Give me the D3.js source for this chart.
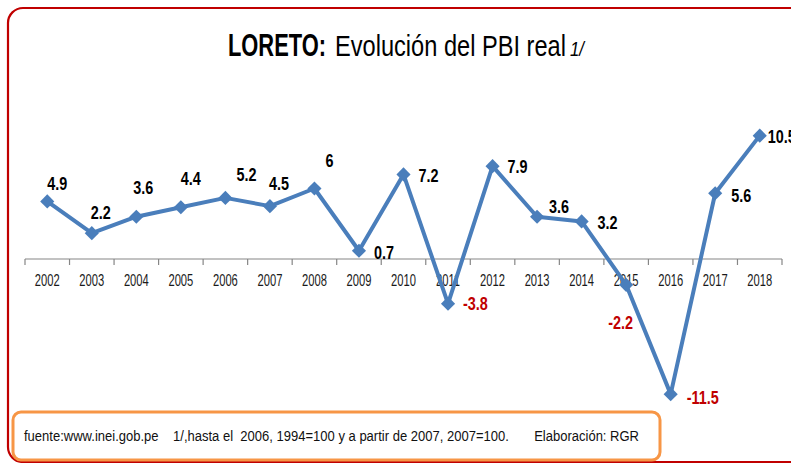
<!DOCTYPE html>
<html>
<head>
<meta charset="utf-8">
<script src="https://cdn.jsdelivr.net/npm/d3@7"></script>
<style>
  html, body { margin: 0; padding: 0; background: #fff; }
  svg { display: block; }
  text { font-family: "Liberation Sans", Arial, sans-serif; }
</style>
</head>
<body>
<div id="chart"></div>
<script>
// Data (PBI real, var. %)
const years = ['2002', '2003', '2004', '2005', '2006', '2007', '2008', '2009', '2010',
  '2011', '2012', '2013', '2014', '2015', '2016', '2017', '2018'];
const growth = [4.9, 2.2, 3.6, 4.4, 5.2, 4.5, 6, 0.7, 7.2, -3.8, 7.9, 3.6, 3.2, -2.2, -11.5, 5.6, 10.5];

// label nudges relative to each point [dx, dy] (hand-placed in the original)
const labelNudge = [[0, -18], [-1, -21], [-3, -29], [0, -29], [11, -23], [-1, -23], [11, -28],
  [15, 2], [15, 1], [15, 0], [15, 0], [12, -10], [16, 1], [-18, 38], [16, 3], [16, 2], [8, 1]];

const footnote = 'fuente:www.inei.gob.pe\u00a0\u00a0\u00a0\u00a01/,hasta el\u00a0\u00a02006, 1994=100 y a partir de 2007, 2007=100.\u00a0\u00a0\u00a0\u00a0\u00a0\u00a0\u00a0Elaboración: RGR';

const CONFIG = {
  width: 791,
  height: 463,
  plotLeft: 25,
  plotRight: 782,
  lineColor: '#4a7ebb',
  negColor: '#c00000',
  narrow: 0.8,   // horizontal squeeze, the original text is condensed
};

const svg = d3.select('#chart')
  .append('svg')
  .attr('width', CONFIG.width)
  .attr('height', CONFIG.height);

// squeeze text horizontally, either by a fixed factor or to fit a width
function squeeze(sel, factor) {
  sel.each(function () {
    const x = +this.getAttribute('x');
    const y = +this.getAttribute('y');
    this.setAttribute('x', 0);
    this.setAttribute('y', 0);
    this.setAttribute('transform', `translate(${x},${y}) scale(${factor},1)`);
  });
}

function fitWidth(sel, w) {
  sel.each(function () {
    squeeze(d3.select(this), w / this.getComputedTextLength());
  });
}

// Outer red frame (runs off the right side)
svg.append('rect')
  .attr('x', 8).attr('y', 8)
  .attr('width', 820).attr('height', 454)
  .attr('rx', 15)
  .attr('fill', '#fff')
  .attr('stroke', '#c00000')
  .attr('stroke-width', 2.2);

// Title
svg.append('text')
  .attr('x', 228).attr('y', 56)
  .attr('font-size', 31).attr('font-weight', 'bold')
  .text('LORETO:')
  .call(fitWidth, 98);
svg.append('text')
  .attr('x', 335).attr('y', 56)
  .attr('font-size', 29)
  .text('Evolución del PBI real')
  .call(fitWidth, 231);
svg.append('text')
  .attr('x', 570).attr('y', 56)
  .attr('font-size', 20).attr('font-style', 'italic')
  .text('1/')
  .call(fitWidth, 14);

// Scales
const x = d3.scaleBand()
  .domain(years)
  .range([CONFIG.plotLeft, CONFIG.plotRight]);

const y = d3.scaleLinear()
  .domain([-12, 12])
  .range([400, 118]);

const cx = d => x(d) + x.bandwidth() / 2;

// Category axis at zero
const axis = svg.append('g')
  .attr('transform', `translate(0, ${y(0)})`);

axis.append('line')
  .attr('x1', CONFIG.plotLeft).attr('x2', CONFIG.plotRight)
  .attr('stroke', '#868686').attr('stroke-width', 1.2);

const tickPos = years.map(d => x(d)).concat([x(years[years.length - 1]) + x.bandwidth()]);
axis.selectAll('.tick')
  .data(tickPos)
  .join('line')
  .attr('class', 'tick')
  .attr('x1', d => d).attr('x2', d => d)
  .attr('y1', 0).attr('y2', 6)
  .attr('stroke', '#868686').attr('stroke-width', 1.2);

axis.selectAll('.year-label')
  .data(years)
  .join('text')
  .attr('class', 'year-label')
  .attr('x', d => cx(d))
  .attr('y', 27)
  .attr('text-anchor', 'middle')
  .attr('font-size', 16)
  .attr('fill', '#1a1a1a')
  .text(d => d)
  .call(squeeze, 0.7);

// Line
const points = years.map((yr, i) => ({ year: yr, value: growth[i], nudge: labelNudge[i] }));

const line = d3.line()
  .x(d => cx(d.year))
  .y(d => y(d.value));

svg.append('path')
  .datum(points)
  .attr('d', line)
  .attr('fill', 'none')
  .attr('stroke', CONFIG.lineColor)
  .attr('stroke-width', 4)
  .attr('stroke-linejoin', 'round');

// Diamond markers
svg.selectAll('.marker')
  .data(points)
  .join('path')
  .attr('class', 'marker')
  .attr('d', d3.symbol(d3.symbolSquare, 100)())
  .attr('transform', d => `translate(${cx(d.year)}, ${y(d.value)}) rotate(45)`)
  .attr('fill', CONFIG.lineColor);

// Data labels
svg.selectAll('.value-label')
  .data(points)
  .join('text')
  .attr('class', 'value-label')
  .attr('x', d => cx(d.year) + d.nudge[0])
  .attr('y', d => y(d.value) + d.nudge[1] + 6.5)
  .attr('font-size', 18)
  .attr('font-weight', 'bold')
  .attr('fill', d => d.value < 0 ? CONFIG.negColor : '#000')
  .text(d => String(d.value))
  .call(squeeze, CONFIG.narrow);

// Footnote box
svg.append('rect')
  .attr('x', 13).attr('y', 412)
  .attr('width', 647).attr('height', 48)
  .attr('rx', 8)
  .attr('fill', '#fff')
  .attr('stroke', '#f79646')
  .attr('stroke-width', 3);

svg.append('text')
  .attr('x', 24).attr('y', 441)
  .attr('font-size', 14.5)
  .attr('fill', '#111')
  .text(footnote)
  .call(fitWidth, 616);
</script>
</body>
</html>
